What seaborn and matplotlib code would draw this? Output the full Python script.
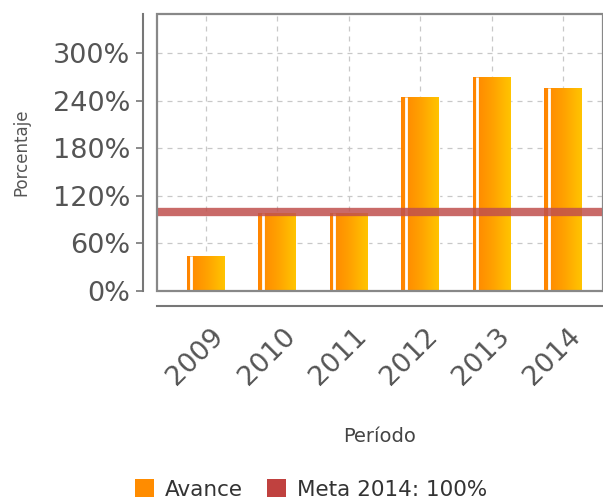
import numpy as np
import pandas as pd
import matplotlib
matplotlib.use('Agg')
import matplotlib.pyplot as plt
import seaborn as sns
from matplotlib.colors import LinearSegmentedColormap
from matplotlib.patches import Patch, Rectangle
from matplotlib.ticker import FuncFormatter
import matplotlib.transforms as mtransforms

# --- data ---
periodos = ['2009', '2010', '2011', '2012', '2013', '2014']
avance = [44, 98, 98, 245, 270, 256]
meta = 100
y_ticks = [0, 60, 120, 180, 240, 300]

df = pd.DataFrame({'periodo': periodos, 'avance': avance})

sns.set_style('white')
plt.rcParams['font.family'] = ['DejaVu Sans']

fig = plt.figure(figsize=(6.03, 5.04), dpi=100)
ax = fig.add_axes([0.260, 0.4226, 0.74, 0.5496])

sns.barplot(data=df, x='periodo', y='avance', color='#ff8c00', width=0.53,
            saturation=1, ax=ax, zorder=2)

# gradient fill inside each bar (dark orange -> yellow-orange)
grad_cmap = LinearSegmentedColormap.from_list('naranja', ['#ff8400', '#ffa000', '#ffc400'])
grad = np.linspace(0, 1, 64).reshape(1, -1)
for bar in list(ax.patches):
    x0, y0 = bar.get_x(), bar.get_y()
    w, h = bar.get_width(), bar.get_height()
    im = ax.imshow(grad, extent=[x0, x0 + w, y0, y0 + h], cmap=grad_cmap,
                   aspect='auto', zorder=2.1, interpolation='bilinear')
    im.set_clip_path(bar)
    # thin white highlight near the left edge
    ax.vlines(x0 + 0.12 * w, y0, y0 + h, color='white', lw=2, zorder=2.2)

ax.axhline(meta, color='#c0504d', lw=6, alpha=0.85, zorder=3)

ax.set_xlim(-0.686, 5.56)
ax.set_ylim(0, 349)
ax.set_yticks(y_ticks)
ax.yaxis.set_major_formatter(FuncFormatter(lambda v, p: f'{v:.0f}%'))

ax.grid(True, color='#c8c8c8', linestyle=(0, (4, 4)), lw=0.9, zorder=0)
ax.set_axisbelow(True)

# detached axis lines, box drawn separately
for s in ['top', 'right']:
    ax.spines[s].set_visible(False)
ax.spines['left'].set_position(('outward', 10))
ax.spines['bottom'].set_position(('outward', 11))
for s in ['left', 'bottom']:
    ax.spines[s].set_color('#777777')
    ax.spines[s].set_linewidth(1.5)
ax.add_patch(Rectangle((0, 0), 1, 1, transform=ax.transAxes, fill=False,
                       edgecolor='#888888', lw=1.6, clip_on=False, zorder=5))

ax.tick_params(axis='y', length=5, width=1.2, color='#777777', labelsize=19.5,
               labelcolor='#555555', pad=4, left=True)
ax.tick_params(axis='x', length=0, labelsize=19.5, labelcolor='#555555', pad=19)

offset = mtransforms.ScaledTranslation(14 / 100, 0, fig.dpi_scale_trans)
for lab in ax.get_xticklabels():
    lab.set_rotation(45)
    lab.set_ha('right')
    lab.set_va('center')
    lab.set_rotation_mode('anchor')
    lab.set_transform(lab.get_transform() + offset)

ax.set_xlabel('Período', fontsize=14, color='#444444', labelpad=26)
ax.set_ylabel('Porcentaje', fontsize=12, color='#555555', labelpad=16)

handles = [Patch(facecolor='#ff8c00', edgecolor='none', label='Avance'),
           Patch(facecolor='#c0413f', edgecolor='none', label='Meta 2014: 100%')]
fig.legend(handles=handles, loc='lower center', bbox_to_anchor=(0.516, -0.03),
           ncol=2, frameon=False, fontsize=15.5, handlelength=0.9, handleheight=0.9,
           handletextpad=0.5, columnspacing=1.1, labelcolor='#333333')

fig.savefig('out.png', dpi=100)
